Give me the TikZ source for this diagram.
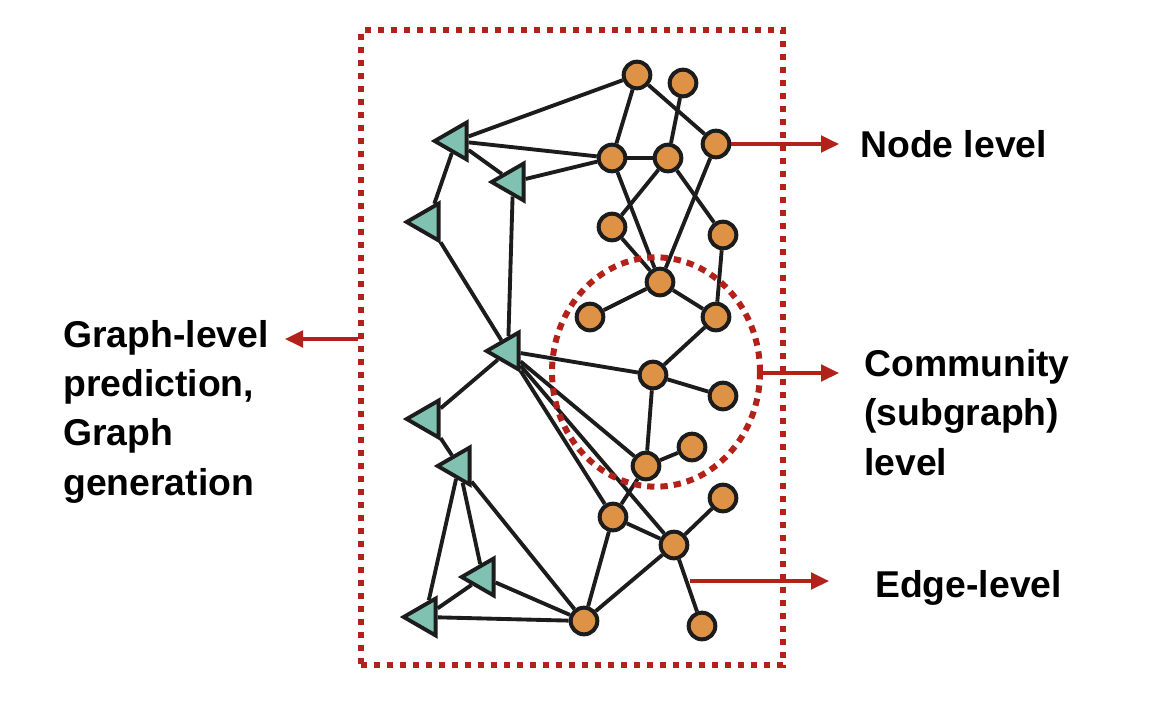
\documentclass[tikz,border=0pt]{standalone}
\usepackage{fontspec}
\setmainfont{Liberation Sans}
\usetikzlibrary{shapes.geometric,arrows.meta,backgrounds}
\definecolor{nodeorange}{RGB}{222,146,70}
\definecolor{nodeteal}{RGB}{128,193,177}
\definecolor{darkline}{RGB}{28,28,28}
\definecolor{levelred}{RGB}{178,34,26}
\tikzset{
  onode/.style={circle,draw=darkline,fill=nodeorange,line width=3pt,minimum size=20pt,inner sep=0pt},
  tnode/.style={regular polygon,regular polygon sides=3,shape border rotate=90,draw=darkline,fill=nodeteal,line width=2.9pt,minimum size=32pt,inner sep=0pt},
  link/.style={darkline,line width=2.9pt},
  levelarrow/.style={levelred,line width=2.5pt,-{Triangle[length=13.5pt,width=12.5pt]}},
  lbl/.style={font=\fontsize{28}{37}\selectfont\bfseries,inner sep=0pt,align=left},
}

\begin{document}
\begin{tikzpicture}[x=0.75pt,y=-0.75pt]
\useasboundingbox (0,0) rectangle (1168,708);

\node[draw=levelred,line width=4.5pt,dash pattern=on 4.5pt off 5.25pt,minimum width=316.5pt,minimum height=476pt,inner sep=0pt] (box) at (572,347.5) {};
\node[ellipse,draw=levelred,line width=4.5pt,dash pattern=on 5.5pt off 4.5pt,minimum width=156pt,minimum height=172pt,inner sep=0pt] (comm) at (656,372) {};

\node[onode] (o1) at (637,75) {};
\node[onode] (o2) at (683,83) {};
\node[onode] (o3) at (716,144) {};
\node[onode] (o4) at (612,158) {};
\node[onode] (o5) at (668,158) {};
\node[onode] (o6) at (612,227) {};
\node[onode] (o7) at (723,235) {};
\node[onode] (o8) at (660,282) {};
\node[onode] (o9) at (590,317) {};
\node[onode] (o10) at (716,317) {};
\node[onode] (o11) at (653,375) {};
\node[onode] (o12) at (723,396) {};
\node[onode] (o13) at (692,447) {};
\node[onode] (o14) at (646,466) {};
\node[onode] (o15) at (723,498) {};
\node[onode] (o16) at (613,517) {};
\node[onode] (o17) at (674,545) {};
\node[onode] (o18) at (584,621) {};
\node[onode] (o19) at (702,626) {};

\node[tnode] (t1) at (456,141) {};
\node[tnode] (t2) at (513,182) {};
\node[tnode] (t3) at (428,222) {};
\node[tnode] (t4) at (508,351) {};
\node[tnode] (t5) at (428,419) {};
\node[tnode] (t6) at (459,466) {};
\node[tnode] (t7) at (483,577) {};
\node[tnode] (t8) at (425,617) {};

\begin{pgfonlayer}{background}
\foreach \a/\b in {o1/t1,o4/t1,o4/t2,t1/t2,t1/t3,o1/o4,o1/o3,o2/o5,o4/o5,o4/o8,o5/o6,o5/o7,o3/o8,o6/o8,o7/o10,o8/o9,o8/o10,t2/t4,t3/t4,o10/o11,t4/o11,t4/t5,t4/o14,t4/o16,t4/o17,o11/o12,o11/o14,o13/o14,o14/o16,o16/o17,o16/o18,o15/o17,o17/o18,o17/o19,t5/t6,t6/t7,t6/t8,t6/o18,t7/t8,t7/o18,t8/o18}
  \draw[link] (\a) -- (\b);
\end{pgfonlayer}

\node[lbl,anchor=base west] (lblnode) at (860,157) {Node level};
\node[lbl,anchor=base west] (lblcomm) at (864,475) {Community\\(subgraph)\\level};
\node[lbl,anchor=base west] (lbledge) at (875,597) {Edge-level};
\node[lbl,anchor=base west] (lblgraph) at (63,495) {Graph-level\\prediction,\\Graph\\generation};

\coordinate (nodetip) at (839,144);
\coordinate (commtip) at (839,373);
\coordinate (edgefrom) at (690,581);
\coordinate (edgetip) at (829,581);
\coordinate (graphtip) at (285,339);

\draw[levelarrow] (o3) -- (nodetip);
\draw[levelarrow] (comm.east |- commtip) -- (commtip);
\draw[levelarrow] (edgefrom) -- (edgetip);
\draw[levelarrow] (box.west |- graphtip) -- (graphtip);
\end{tikzpicture}
\end{document}
